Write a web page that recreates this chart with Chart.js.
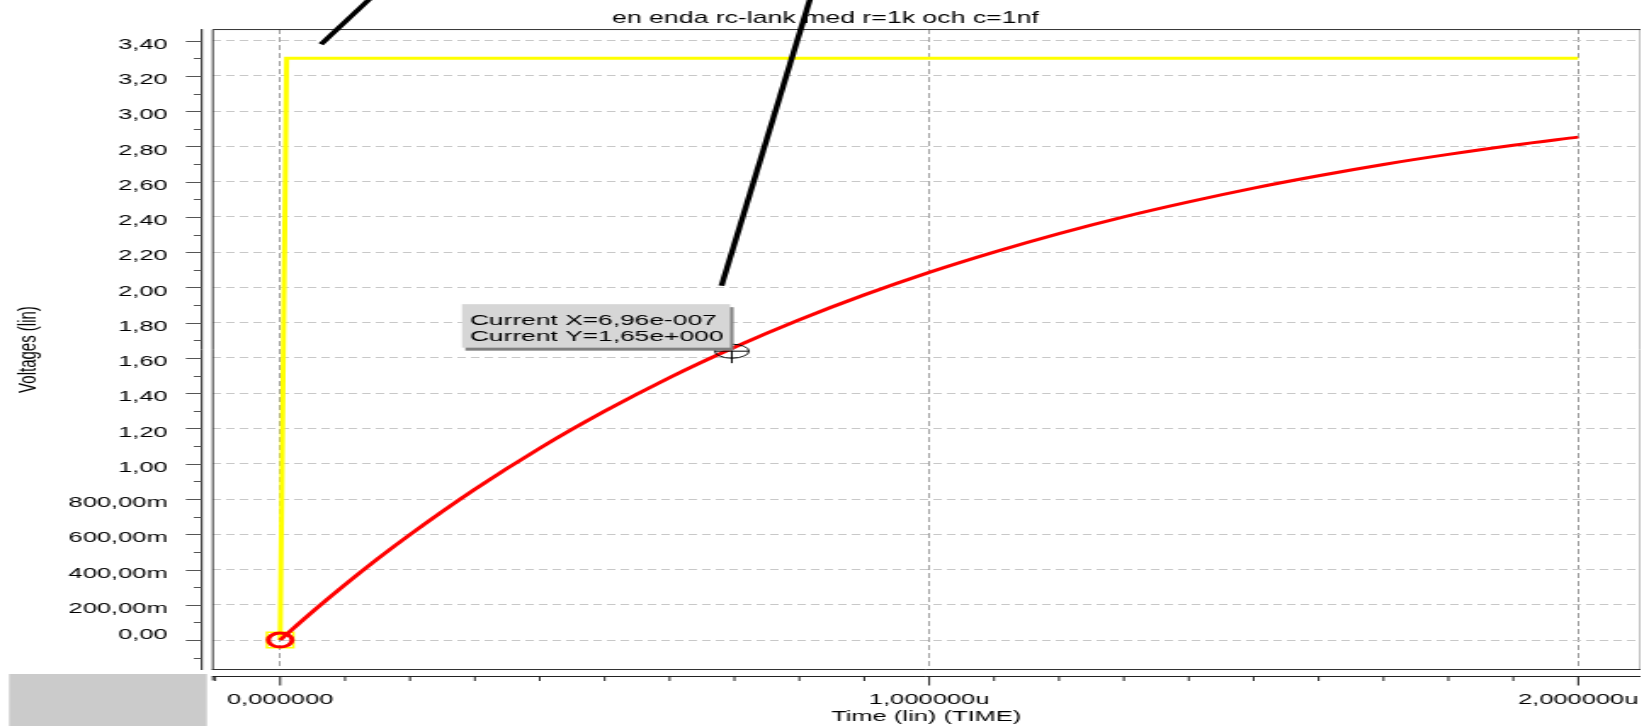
<!DOCTYPE html>
<html>
<head>
<meta charset="utf-8">
<title>en enda rc-lank med r=1k och c=1nf</title>
<script src="https://cdn.jsdelivr.net/npm/chart.js@4.4.1/dist/chart.umd.min.js"></script>
<style>
  html, body { margin: 0; padding: 0; background: #fff; overflow: hidden; }
  /* the scope window is drawn narrow and stretched sideways */
  #wrap { position: absolute; left: 0; top: 0; width: 966px; height: 726px; transform: scaleX(1.7); transform-origin: 0 0; }
</style>
</head>
<body>
<div id="wrap"><canvas id="plot"></canvas></div>
<script>
// Time in microseconds, voltages in volts

// capacitor voltage
const timeUs = [0, 0.05, 0.1, 0.15, 0.2, 0.3, 0.4, 0.5, 0.6, 0.7, 0.8, 0.9, 1.0,
                1.1, 1.2, 1.3, 1.4, 1.5, 1.6, 1.7, 1.8, 1.9, 2.0];
const vOut = [0.000, 0.161, 0.314, 0.460, 0.598, 0.855, 1.088, 1.298, 1.489, 1.661, 1.817, 1.958, 2.086,
              2.201, 2.306, 2.401, 2.486, 2.564, 2.634, 2.698, 2.755, 2.807, 2.853];

// input step
const stepTime = [0, 0.01, 2.0];
const stepVolt = [0, 3.3, 3.3];

const xTickValues = [0, 1, 2];
const xTickLabels = ['0,000000', '1,000000u', '2,000000u'];
const yTickValues = [0, 0.2, 0.4, 0.6, 0.8, 1.0, 1.2, 1.4, 1.6, 1.8, 2.0,
                     2.2, 2.4, 2.6, 2.8, 3.0, 3.2, 3.4];
const yTickLabels = ['0,00', '200,00m', '400,00m', '600,00m', '800,00m', '1,00',
                     '1,20', '1,40', '1,60', '1,80', '2,00', '2,20', '2,40',
                     '2,60', '2,80', '3,00', '3,20', '3,40'];

// measurement cursor
const cursorX = 0.696;
const cursorY = 1.65;
const cursorText = ['Current X=6,96e-007', 'Current Y=1,65e+000'];

// pen strokes scribbled over the plot (data units)
const penStrokes = [
    [[0.063, 3.38], [0.171, 3.75]],
    [[0.68, 2.01], [0.826, 3.75]]
];

const FONT = "'Liberation Sans', Arial, sans-serif";

// frame, offset axes with their tick marks, cursor readout and pen strokes
const scopeFrame = {
    id: 'scopeFrame',
    beforeDatasetsDraw(chart) {
        const { ctx, chartArea: a, scales: { x, y } } = chart;
        const axisX = a.left - 6;
        const axisY = a.bottom + 6.5;
        ctx.save();

        // grey block under the value axis
        ctx.fillStyle = '#cbcbcb';
        ctx.fillRect(5.3, a.bottom + 4, axisX + 3 - 5.3, chart.height - a.bottom - 4);

        // plot frame
        ctx.lineWidth = 1;
        ctx.strokeStyle = '#c0c0c0';
        ctx.beginPath();
        ctx.moveTo(a.right - 0.5, a.top);
        ctx.lineTo(a.right - 0.5, a.bottom);
        ctx.stroke();
        ctx.strokeStyle = '#333';
        ctx.beginPath();
        ctx.moveTo(a.left + 0.5, a.bottom);
        ctx.lineTo(a.left + 0.5, a.top + 0.5);
        ctx.lineTo(a.right, a.top + 0.5);
        ctx.moveTo(a.left, a.bottom - 0.5);
        ctx.lineTo(a.right, a.bottom - 0.5);
        ctx.stroke();

        // value axis
        ctx.strokeStyle = '#222';
        ctx.beginPath();
        ctx.moveTo(axisX, a.top);
        ctx.lineTo(axisX, a.bottom);
        ctx.stroke();
        ctx.strokeStyle = '#555';
        ctx.beginPath();
        yTickValues.forEach(v => {
            const py = Math.round(y.getPixelForValue(v)) + 0.5;
            ctx.moveTo(axisX - 9.4, py);
            ctx.lineTo(axisX, py);
        });
        for (let k = -1; k <= 33; k += 2) {
            const py = Math.round(y.getPixelForValue(k / 10)) + 0.5;
            ctx.moveTo(axisX - 4.7, py);
            ctx.lineTo(axisX, py);
        }
        ctx.stroke();

        // time axis
        ctx.strokeStyle = '#222';
        ctx.beginPath();
        ctx.moveTo(a.left, axisY);
        ctx.lineTo(a.right, axisY);
        ctx.moveTo(a.left + 0.5, axisY);
        ctx.lineTo(a.left + 0.5, axisY + 4);
        ctx.stroke();
        ctx.beginPath();
        xTickValues.forEach(v => {
            const px = x.getPixelForValue(v);
            ctx.moveTo(px, axisY);
            ctx.lineTo(px, axisY + 9);
        });
        for (let k = -1; k <= 20; k++) {
            if (k % 10 === 0) continue;
            const px = x.getPixelForValue(k / 10);
            ctx.moveTo(px, axisY);
            ctx.lineTo(px, axisY + 4.5);
        }
        ctx.stroke();
        ctx.restore();
    },
    afterDraw(chart) {
        const { ctx, scales: { x, y } } = chart;
        const px = x.getPixelForValue(cursorX);
        const py = y.getPixelForValue(cursorY);
        ctx.save();

        // cursor crosshair
        ctx.strokeStyle = '#000';
        ctx.lineWidth = 1;
        ctx.beginPath();
        ctx.ellipse(px, py + 2, 10, 7, 0, 0, Math.PI * 2);
        ctx.moveTo(px - 10, py + 2);
        ctx.lineTo(px + 10, py + 2);
        ctx.moveTo(px, py - 6);
        ctx.lineTo(px, py + 14);
        ctx.stroke();

        // readout box
        ctx.font = `15.5px ${FONT}`;
        const tw = Math.max(...cursorText.map(t => ctx.measureText(t).width));
        const w = tw + 8.7;
        const h = 43.5;
        const bx = px - 1 - w;
        const by = py - 1.5 - h;
        ctx.fillStyle = '#808080';
        ctx.fillRect(bx + 2, by + 3, w, h);
        ctx.fillStyle = '#d6d6d6';
        ctx.fillRect(bx, by, w, h);
        ctx.fillStyle = '#000';
        ctx.textBaseline = 'middle';
        ctx.textAlign = 'left';
        ctx.fillText(cursorText[0], bx + 4.7, by + 16.4);
        ctx.fillText(cursorText[1], bx + 4.7, by + 32.4);

        // pen strokes
        ctx.strokeStyle = '#000';
        ctx.lineWidth = 3.5;
        penStrokes.forEach(s => {
            ctx.beginPath();
            ctx.moveTo(x.getPixelForValue(s[0][0]), y.getPixelForValue(s[0][1]));
            ctx.lineTo(x.getPixelForValue(s[1][0]), y.getPixelForValue(s[1][1]));
            ctx.stroke();
        });
        ctx.restore();
    }
};

new Chart(document.getElementById('plot'), {
    type: 'line',
    data: {
        datasets: [
            {
                label: 'V(out)',
                data: timeUs.map((t, i) => ({ x: t, y: vOut[i] })),
                borderColor: '#ff0000',
                borderWidth: 3,
                cubicInterpolationMode: 'monotone',
                pointStyle: 'circle',
                pointRadius: ctx => ctx.dataIndex === 0 ? 7 : 0,
                pointBorderColor: '#ff0000',
                pointBorderWidth: 3,
                pointBackgroundColor: 'rgba(0,0,0,0)'
            },
            {
                label: 'V(in)',
                data: stepTime.map((t, i) => ({ x: t, y: stepVolt[i] })),
                borderColor: '#ffff00',
                borderWidth: 3,
                tension: 0,
                pointStyle: 'rect',
                pointRadius: ctx => ctx.dataIndex === 0 ? 11 : 0,
                pointBorderColor: '#ffff00',
                pointBorderWidth: 1.5,
                pointBackgroundColor: 'rgba(0,0,0,0)'
            }
        ]
    },
    options: {
        responsive: true,
        maintainAspectRatio: false,
        animation: false,
        events: [],
        layout: { autoPadding: false, padding: { left: 6, right: 1 } },
        plugins: {
            legend: { display: false },
            tooltip: { enabled: false },
            title: {
                display: true,
                text: 'en enda rc-lank med r=1k och c=1nf',
                color: '#000',
                font: { family: FONT, size: 15.7, weight: 'normal', lineHeight: 1.15 },
                padding: { top: 10, bottom: 1 }
            }
        },
        scales: {
            x: {
                type: 'linear',
                min: -0.105,
                max: 2.096,
                afterBuildTicks: s => { s.ticks = xTickValues.map(v => ({ value: v })); },
                afterFit: s => { s.height = 56; s.paddingLeft = 0; s.paddingRight = 0; },
                grid: { color: '#a0a0a0', lineWidth: 1, drawTicks: false },
                border: { display: false, dash: [5, 3] },
                ticks: {
                    color: '#000',
                    font: { family: FONT, size: 15 },
                    padding: 21,
                    maxRotation: 0,
                    autoSkip: false,
                    callback: (v, i) => xTickLabels[i]
                },
                title: {
                    display: true,
                    text: 'Time (lin) (TIME)',
                    color: '#000',
                    font: { family: FONT, size: 15 },
                    padding: { top: 0, bottom: 0 }
                }
            },
            y: {
                type: 'linear',
                min: -0.17,
                max: 3.466,
                afterBuildTicks: s => { s.ticks = yTickValues.map(v => ({ value: v })); },
                afterFit: s => { s.width = 118.7; s.paddingTop = 0; s.paddingBottom = 0; },
                grid: { color: '#c8c8c8', lineWidth: 1, drawTicks: false },
                border: { display: false, dash: [5, 3] },
                ticks: {
                    color: '#000',
                    font: { family: FONT, size: 15 },
                    padding: 26,
                    labelOffset: 4,
                    autoSkip: false,
                    // the zero label sits a little higher than the others
                    callback: (v, i) => i === 0 ? [yTickLabels[0], ''] : yTickLabels[i]
                },
                title: {
                    display: true,
                    text: 'Voltages (lin)',
                    color: '#000',
                    font: { family: FONT, size: 15 },
                    padding: { top: 1.5, bottom: 0 }
                }
            }
        }
    },
    plugins: [scopeFrame]
});
</script>
</body>
</html>
